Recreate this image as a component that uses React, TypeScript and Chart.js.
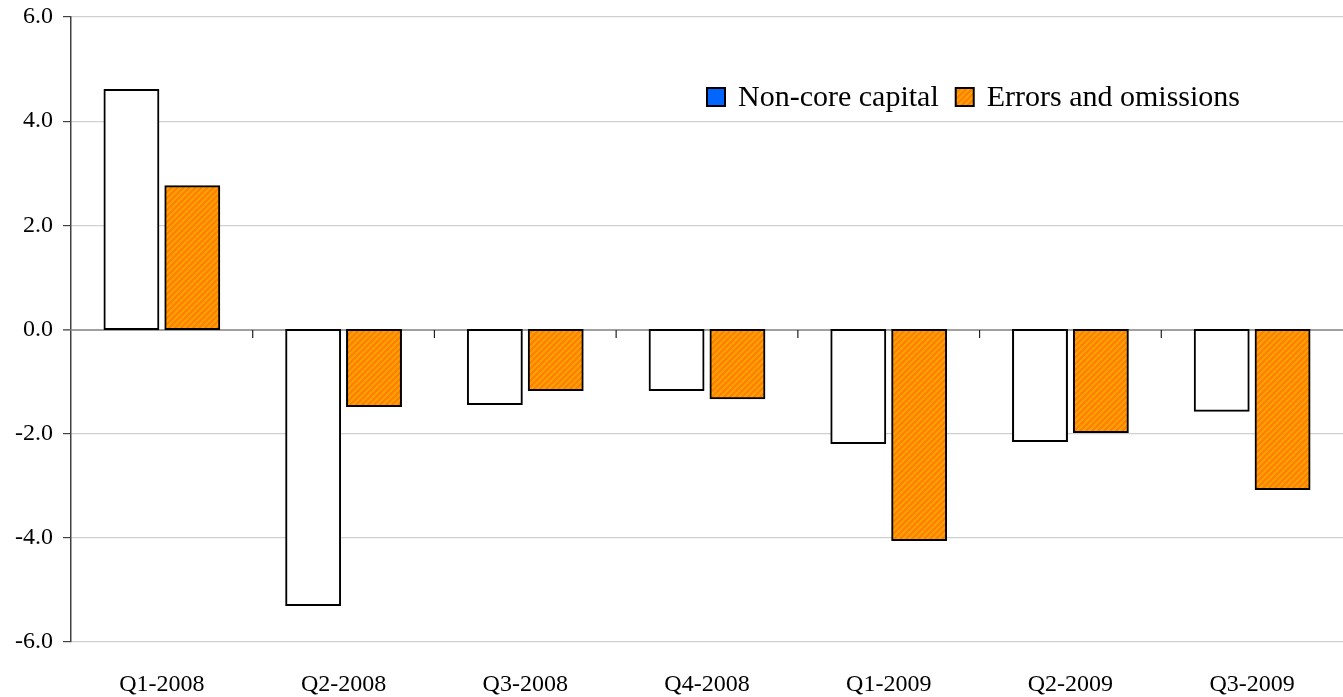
import React, { useEffect, useRef } from "react";
import { Chart, registerables } from "chart.js";

Chart.register(...registerables);

const categories = ["Q1-2008", "Q2-2008", "Q3-2008", "Q4-2008", "Q1-2009", "Q2-2009", "Q3-2009"];
const nonCoreCapital = [4.6, -5.29, -1.43, -1.16, -2.18, -2.14, -1.56];
const errorsOmissions = [2.75, -1.47, -1.16, -1.32, -4.04, -1.97, -3.06];
const seriesLabels = ["Non-core capital", "Errors and omissions"];
const yTicks = [-6, -4, -2, 0, 2, 4, 6];

const FONT = "'Liberation Serif', 'Times New Roman', serif";

function makePattern(): CanvasPattern | string {
  const n = 6;
  const c = document.createElement("canvas");
  c.width = n;
  c.height = n;
  const g = c.getContext("2d");
  if (!g) return "#FF8000";
  for (let y = 0; y < n; y++) {
    for (let x = 0; x < n; x++) {
      g.fillStyle = (x + y) % n < 3 ? "#FFA000" : "#FF8000";
      g.fillRect(x, y, 1, 1);
    }
  }
  const p = g.createPattern(c, "repeat");
  return p || "#FF8000";
}

export default function App() {
  const ref = useRef<HTMLCanvasElement | null>(null);

  useEffect(() => {
    if (!ref.current) return;
    const pattern = makePattern();
    const legendFills: (string | CanvasPattern)[] = ["#0066FF", pattern];

    const zeroLinePlugin = {
      id: "zeroLineTicks",
      beforeDatasetsDraw(chart: any) {
        const { ctx, scales, chartArea } = chart;
        const y0 = Math.round(scales.y.getPixelForValue(0));
        ctx.save();
        ctx.strokeStyle = "#808080";
        ctx.lineWidth = 1.5;
        ctx.beginPath();
        ctx.moveTo(chartArea.left - 8, y0);
        ctx.lineTo(chartArea.right, y0);
        ctx.stroke();
        ctx.strokeStyle = "#202020";
        ctx.lineWidth = 1.2;
        for (let i = 0; i < categories.length - 1; i++) {
          const x = (scales.x.getPixelForValue(i) + scales.x.getPixelForValue(i + 1)) / 2;
          ctx.beginPath();
          ctx.moveTo(x, y0);
          ctx.lineTo(x, y0 + 8);
          ctx.stroke();
        }
        ctx.restore();
      },
    };

    const legendPlugin = {
      id: "insideLegend",
      afterDraw(chart: any) {
        const { ctx } = chart;
        ctx.save();
        ctx.font = `30px ${FONT}`;
        ctx.textBaseline = "alphabetic";
        let x = 707;
        const boxTop = 88;
        const size = 18;
        chart.data.datasets.forEach((ds: any, i: number) => {
          ctx.fillStyle = legendFills[i];
          ctx.fillRect(x, boxTop, size, size);
          ctx.strokeStyle = "#000";
          ctx.lineWidth = 2;
          ctx.strokeRect(x, boxTop, size, size);
          ctx.fillStyle = "#000";
          ctx.fillText(ds.label, x + size + 13, 106);
          x += size + 13 + ctx.measureText(ds.label).width + 17;
        });
        ctx.restore();
      },
    };

    const barStyle = {
      borderColor: "#000000",
      borderWidth: 2,
      borderSkipped: false as const,
      inflateAmount: 1,
      categoryPercentage: 0.67,
      barPercentage: 0.885,
    };

    const chart = new Chart(ref.current, {
      type: "bar",
      data: {
        labels: categories,
        datasets: [
          {
            label: seriesLabels[0],
            data: nonCoreCapital,
            backgroundColor: "#FFFFFF",
            ...barStyle,
          },
          {
            label: seriesLabels[1],
            data: errorsOmissions,
            backgroundColor: pattern as any,
            ...barStyle,
          },
        ],
      },
      options: {
        responsive: false,
        animation: false,
        devicePixelRatio: 1,
        layout: { padding: { top: 17, left: 0, right: 0, bottom: 0 } },
        plugins: {
          legend: { display: false },
          tooltip: { enabled: false },
        },
        scales: {
          x: {
            grid: { display: false, drawTicks: false },
            border: { display: false },
            ticks: {
              color: "#000",
              font: { family: FONT, size: 24 },
              padding: 28,
              maxRotation: 0,
            },
            afterFit(scale: any) {
              scale.height = 55;
              scale.paddingLeft = 0;
              scale.paddingRight = 0;
            },
          },
          y: {
            min: -6,
            max: 6,
            afterBuildTicks(scale: any) {
              scale.ticks = yTicks.map((v) => ({ value: v }));
            },
            grid: {
              color: (c: any) => (c.tick && c.tick.value === 0 ? "rgba(0,0,0,0)" : "#D0D0D0"),
              lineWidth: 1.2,
              tickLength: 8,
              tickColor: "#404040",
            },
            border: { display: true, color: "#404040", width: 1.5 },
            ticks: {
              color: "#000",
              font: { family: FONT, size: 24 },
              padding: 10,
              callback: (v: any) => Number(v).toFixed(1),
            },
            afterFit(scale: any) {
              scale.width = 71;
              scale.paddingTop = 0;
              scale.paddingBottom = 0;
            },
          },
        },
      },
      plugins: [zeroLinePlugin, legendPlugin],
    });
    return () => chart.destroy();
  }, []);

  return (
    <div style={{ position: "absolute", left: 0, top: 0, width: 1343, height: 697 }}>
      <canvas ref={ref} width={1343} height={697} />
    </div>
  );
}
